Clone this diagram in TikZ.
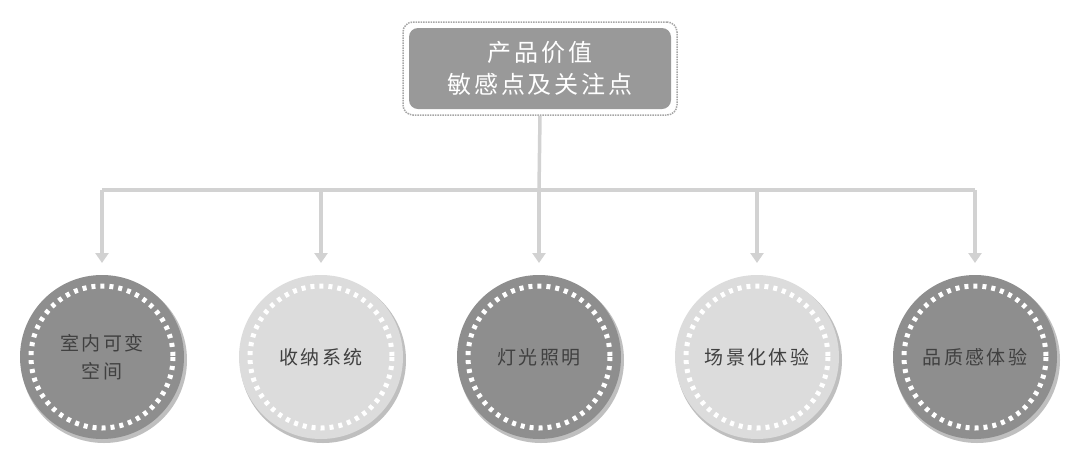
\documentclass[tikz,border=0pt]{standalone}
\usepackage{fontspec}
\newfontfamily\cjk{Noto Sans CJK SC}[LetterSpace=12]
\usetikzlibrary{arrows.meta}
\definecolor{dk}{HTML}{8E8E8E}
\definecolor{lt}{HTML}{DCDCDC}
\definecolor{ln}{HTML}{D2D2D2}
\begin{document}
\begin{tikzpicture}[x=1pt,y=-1pt,
 circ/.style={circle,minimum size=164pt,inner sep=0pt,align=center,font=\cjk\fontsize{19}{28}\selectfont,text=black!75},
 conn/.style={draw=ln,line width=3.5pt,-{Triangle[length=10pt,width=13pt]}}]
\useasboundingbox (0,0) rectangle (1080,475);
\node[draw=gray!70,densely dotted,line width=1.5pt,rounded corners=10pt,minimum width=274pt,minimum height=93pt,fill=white] (top) at (540,68.5) {};
\node[fill=dk!90,rounded corners=9pt,minimum width=262pt,minimum height=81pt,align=center,text=white,font=\cjk\fontsize{24}{32}\selectfont] (topin) at (540,68.5) {产品价值\\敏感点及关注点};
\foreach \n/\x/\c/\t in {a/102/dk/{室内可变\\空间},b/321/lt/收纳系统,c/539/dk/灯光照明,d/757/lt/场景化体验,e/975/dk/品质感体验}{
 \fill[black!25] (\x+2,360) circle (83);
 \node[circ,fill=\c] (\n) at (\x,357) {\t};
 \draw[white,line width=5pt,dash pattern=on 4pt off 5pt] (\n.center) circle (71);
 \coordinate (t\n) at (\x,190);
 \coordinate (e\n) at (\x,263);
}
\draw[ln,line width=3.5pt] (ta) -- (te);
\draw[ln,line width=3.5pt] (top.south) -- (tc);
\foreach \n in {a,b,c,d,e}{\draw[conn] (t\n) -- (e\n);}
\end{tikzpicture}
\end{document}
